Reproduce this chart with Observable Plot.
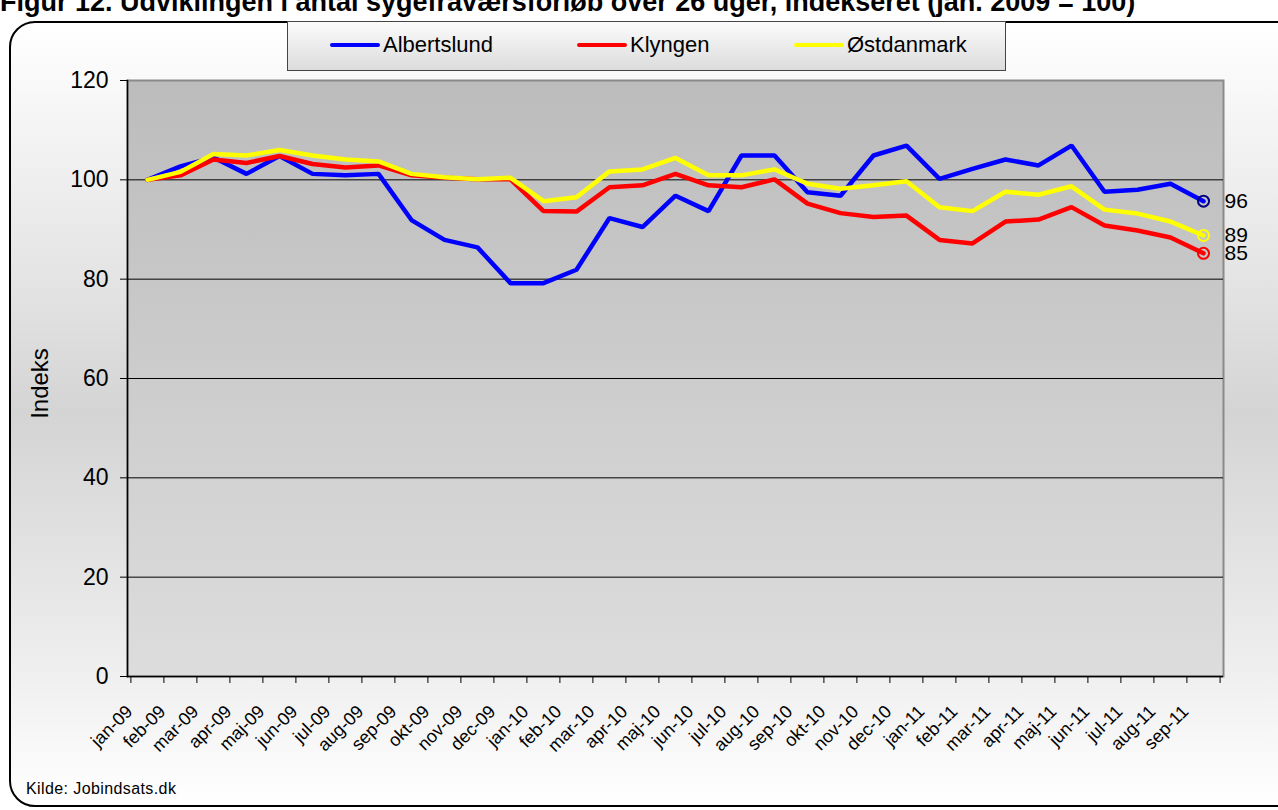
<!DOCTYPE html>
<html>
<head>
<meta charset="utf-8">
<script src="https://cdn.jsdelivr.net/npm/d3@7"></script>
<script src="https://cdn.jsdelivr.net/npm/@observablehq/plot@0.6"></script>
<style>
  html, body { margin: 0; padding: 0; background: #fff; }
  body { width: 1278px; height: 810px; overflow: hidden; position: relative; font-family: Arial, "Liberation Sans", sans-serif; }
  #card { position: absolute; left: 9px; top: 21px; width: 1290px; height: 782px; border: 2px solid #000; border-radius: 26px;
          background: linear-gradient(to bottom, #ffffff 0%, #e2e2e2 35%, #d4d4d4 50%, #eeeeee 82%, #ffffff 100%); }
  #title { position: absolute; left: 0; top: -13px; font-weight: bold; font-size: 27px; line-height: 31px; white-space: nowrap; color: #000; }
  #chart { position: absolute; left: 0; top: 0; }
  #legend { position: absolute; left: 287px; top: 21px; width: 719px; height: 50px; border: 1px solid #444;
            background: linear-gradient(to bottom, #fbfbfb, #dcdcdc); box-sizing: border-box; }
  .li { position: absolute; top: 10px; font-size: 22px; display: flex; align-items: center; }
  .li span.sw { display: inline-block; width: 50px; height: 4px; margin-right: 3px; border-radius: 2px; }
  #kilde { position: absolute; left: 26px; top: 780px; font-size: 16px; letter-spacing: 0.4px; }
</style>
</head>
<body>
<div id="card"></div>
<div id="title">Figur 12. Udviklingen i antal sygefraværsforløb over 26 uger, indekseret (jan. 2009 = 100)</div>
<div id="chart"></div>
<div id="legend"></div>
<div id="kilde">Kilde: Jobindsats.dk</div>
<script>
const months = ["jan-09","feb-09","mar-09","apr-09","maj-09","jun-09","jul-09","aug-09","sep-09","okt-09","nov-09","dec-09",
  "jan-10","feb-10","mar-10","apr-10","maj-10","jun-10","jul-10","aug-10","sep-10","okt-10","nov-10","dec-10",
  "jan-11","feb-11","mar-11","apr-11","maj-11","jun-11","jul-11","aug-11","sep-11"];
const seriesNames = ["Albertslund", "Klyngen", "Østdanmark"];
const seriesColors = ["#0000ff", "#ff0000", "#ffff00"];
const markerColors = ["#000080", "#ff0000", "#ffff00"];
const albertslund = [100, 102.7, 104.5, 101.2, 104.8, 101.2, 100.9, 101.2, 91.9, 87.9, 86.4, 79.2,
  79.2, 81.9, 92.3, 90.5, 96.8, 93.7, 104.9, 104.9, 97.5, 96.8, 104.9, 106.9,
  100.2, 102.2, 104.1, 102.9, 106.9, 97.6, 98.0, 99.2, 95.7];
const klyngen = [100, 100.9, 104.1, 103.4, 104.8, 103.2, 102.5, 102.9, 100.9, 100.4, 100.1, 100.1,
  93.7, 93.6, 98.5, 98.9, 101.2, 98.9, 98.5, 100.1, 95.2, 93.3, 92.5, 92.8,
  87.9, 87.2, 91.6, 92.0, 94.5, 90.8, 89.8, 88.4, 85.2];
const ostdanmark = [100, 101.6, 105.2, 104.9, 106.0, 104.9, 104.1, 103.7, 101.2, 100.5, 100.1, 100.4,
  95.7, 96.5, 101.7, 102.1, 104.4, 100.9, 100.9, 102.1, 99.2, 98.2, 98.9, 99.7,
  94.5, 93.7, 97.6, 97.0, 98.7, 94.0, 93.2, 91.6, 88.8];
const yTicks = [0, 20, 40, 60, 80, 100, 120];
const gridTicks = [20, 40, 60, 80, 100];
const yAxisLabel = "Indeks";

const seriesValues = [albertslund, klyngen, ostdanmark];
const data = seriesNames.flatMap((s, k) => months.map((m, i) => ({series: s, month: m, value: seriesValues[k][i]})));
const last = seriesNames.map((s, k) => ({series: s, month: months[months.length - 1], value: seriesValues[k][months.length - 1], marker: markerColors[k]}));

const W = 1278, H = 810, mL = 127, mR = 55, mT = 80, mB = 134;
const step = (W - mL - mR) / months.length;

const chart = Plot.plot({
  width: W, height: H,
  marginLeft: mL, marginRight: mR, marginTop: mT, marginBottom: mB,
  style: {background: "transparent", fontFamily: "Arial, 'Liberation Sans', sans-serif", color: "#000"},
  x: {type: "point", domain: months, padding: 0.5, axis: null},
  y: {domain: [0, 120], axis: null},
  color: {domain: seriesNames, range: seriesColors},
  marks: [
    Plot.frame({fill: "url(#plotbg)", stroke: "#8a8a8a", strokeWidth: 2}),
    Plot.ruleY(gridTicks, {stroke: "#000", strokeWidth: 1}),
    Plot.ruleY([0], {stroke: "#000", strokeWidth: 1.5}),
    Plot.frame({anchor: "left", stroke: "#000", strokeWidth: 1.5}),
    Plot.axisY({ticks: yTicks, tickSize: 7, tickPadding: 12, fontSize: 23, label: null, tickFormat: d => d}),
    Plot.text([yAxisLabel], {frameAnchor: "left", textAnchor: "middle", rotate: -90, dx: -87, dy: 5, fontSize: 24}),
    Plot.axisX({ticks: months, tickSize: 7, tickFormat: () => "", label: null, dx: -step / 2}),
    Plot.axisX({ticks: [months[months.length - 1]], tickSize: 7, tickFormat: () => "", label: null, dx: step / 2}),
    Plot.text(months, {x: d => d, frameAnchor: "bottom", rotate: -45, textAnchor: "end", lineAnchor: "middle", dx: -18, dy: 32, fontSize: 18}),
    Plot.line(data, {x: "month", y: "value", z: "series", stroke: "series", strokeWidth: 4.5, strokeLinejoin: "miter"}),
    Plot.dot(last, {x: "month", y: "value", r: 5.5, stroke: "marker", strokeWidth: 2, fill: "none"}),
    Plot.text(last, {x: "month", y: "value", text: d => String(Math.round(d.value)), textAnchor: "start", dx: 21, fontSize: 21})
  ]
});

const defs = d3.select(chart).insert("defs", ":first-child");
const g = defs.append("linearGradient").attr("id", "plotbg").attr("x1", 0).attr("y1", 0).attr("x2", 0).attr("y2", 1);
g.append("stop").attr("offset", "0%").attr("stop-color", "#bcbcbc");
g.append("stop").attr("offset", "100%").attr("stop-color", "#dddddd");
document.getElementById("chart").appendChild(chart);

const legend = document.getElementById("legend");
const legendX = [42, 289, 506];
seriesNames.forEach((s, k) => {
  const d = document.createElement("div");
  d.className = "li";
  d.style.left = legendX[k] + "px";
  d.innerHTML = `<span class="sw" style="background:${seriesColors[k]}"></span>${s}`;
  legend.appendChild(d);
});
</script>
</body>
</html>
